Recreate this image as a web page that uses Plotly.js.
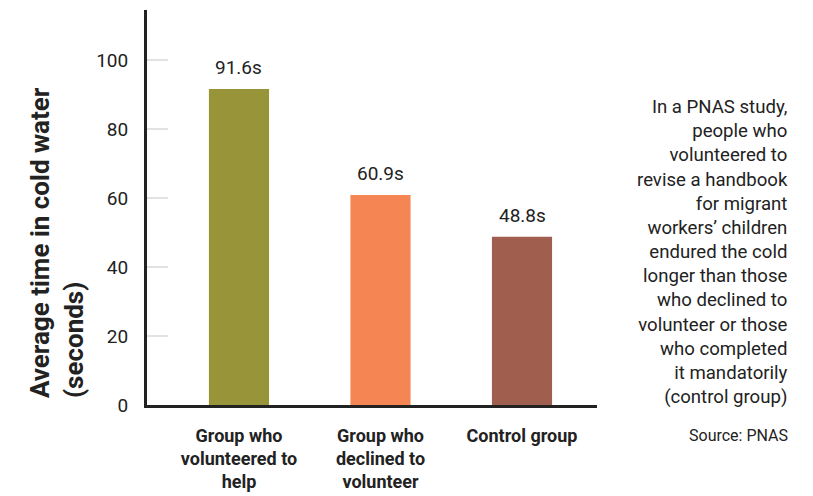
<!DOCTYPE html>
<html>
<head>
<meta charset="utf-8">
<script src="https://cdn.plot.ly/plotly-3.0.1.min.js"></script>
<style>html,body{margin:0;padding:0;background:#fff;}#chart{width:813px;height:496px;}</style>
</head>
<body>
<div id="chart"></div>
<script>
const categories = ["Group who<br>volunteered to<br>help", "Group who<br>declined to<br>volunteer", "Control group"];
const values = [91.6, 60.9, 48.8];
const valueLabels = ["91.6s", "60.9s", "48.8s"];
const barColors = ["#98943a", "#f58552", "#a05e4e"];
const yTicks = [0, 20, 40, 60, 80, 100];
const noteText = "In a PNAS study,<br>people who<br>volunteered to<br>revise a handbook<br>for migrant<br>workers’ children<br>endured the cold<br>longer than those<br>who declined to<br>volunteer or those<br>who completed<br>it mandatorily<br>(control group)";
const sourceText = "Source: PNAS";
const yTitle = "Average time in cold water<br>(seconds)";

const FONT = "Roboto, 'Liberation Sans', sans-serif";
const TXT = "#222222";

const trace = {
  type: "bar",
  x: [0, 1, 2],
  y: values,
  width: 0.425,
  marker: {color: barColors, line: {width: 0}},
  hoverinfo: "skip"
};

const annotations = values.map((v, i) => ({
  x: i, y: v, xref: "x", yref: "y",
  text: valueLabels[i], showarrow: false,
  xanchor: "center", yanchor: "bottom", yshift: 8,
  font: {family: FONT, size: 19, color: TXT}
}));

annotations.push({
  xref: "paper", yref: "paper", x: -0.2, y: 0.41,
  text: yTitle, showarrow: false, textangle: -90, align: "left",
  xanchor: "center", yanchor: "middle",
  font: {family: FONT, size: 26, color: TXT, weight: 700}
});
annotations.push({
  xref: "paper", yref: "paper", x: 1.429, y: 0.387,
  text: noteText, showarrow: false, align: "right",
  xanchor: "right", yanchor: "middle",
  font: {family: FONT, size: 18.6, color: TXT}
});
annotations.push({
  xref: "paper", yref: "paper", x: 1.429, y: -0.076,
  text: sourceText, showarrow: false, align: "right",
  xanchor: "right", yanchor: "middle",
  font: {family: FONT, size: 16, color: TXT}
});

const layout = {
  width: 813, height: 496,
  margin: {l: 147, r: 216, t: 10, b: 91},
  paper_bgcolor: "#ffffff", plot_bgcolor: "#ffffff",
  showlegend: false,
  xaxis: {
    range: [-0.65, 2.53],
    tickmode: "array", tickvals: [0, 1, 2], ticktext: categories,
    showgrid: false, zeroline: false,
    showline: true, linecolor: "#222", linewidth: 3,
    ticks: "", ticklabelstandoff: 12,
    tickfont: {family: FONT, size: 18, color: TXT, weight: 700},
    fixedrange: true
  },
  yaxis: {
    range: [0, 114.5],
    tickmode: "array", tickvals: yTicks,
    showgrid: false, zeroline: false,
    showline: true, linecolor: "#222", linewidth: 3,
    ticks: "inside", ticklen: 21, tickwidth: 2, tickcolor: "#e2e2e2",
    ticklabelstandoff: 12,
    tickfont: {family: FONT, size: 19, color: TXT},
    fixedrange: true
  },
  annotations: annotations
};

Plotly.newPlot("chart", [trace], layout, {displayModeBar: false, staticPlot: true});
</script>
</body>
</html>
